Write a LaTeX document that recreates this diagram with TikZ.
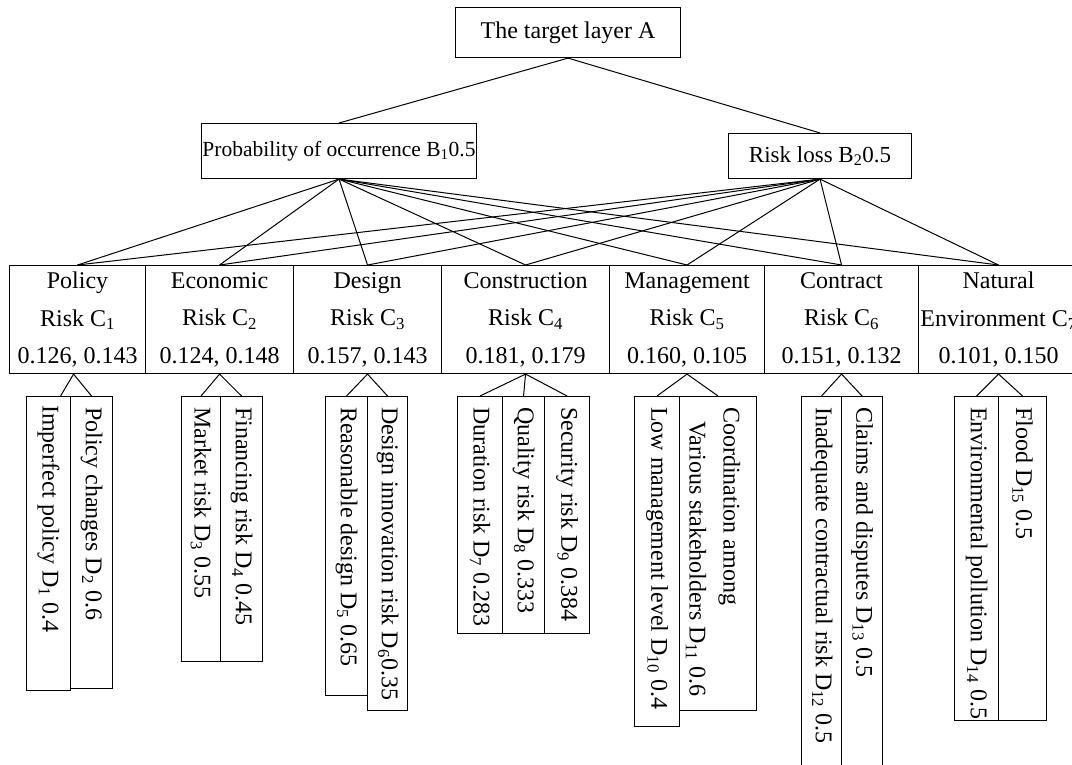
\documentclass[tikz,border=0pt]{standalone}
\usepackage{fontspec}
\setmainfont{Liberation Serif}
\begin{document}
\begin{tikzpicture}[x=1pt,y=-1pt,
  box/.style={draw, line width=1.1pt, inner sep=0pt, anchor=north west, align=center,
    font=\fontsize{24}{37.5}\selectfont},
  bbox/.style={box, font=\fontsize{21.5}{26}\selectfont},
  dbox/.style={draw, line width=1.1pt, inner sep=0pt, anchor=north west},
  dtext/.style={rotate=-90, anchor=west, inner sep=0pt, align=left,
    font=\fontsize{24}{34}\selectfont},
  link/.style={line width=1pt}]
\useasboundingbox (0,0) rectangle (1072,765);
\clip (0,0) rectangle (1072,765);

% level A and B
\node[box, minimum width=225pt, minimum height=50pt] (A) at (455,7) {The target layer A};
\node[bbox, minimum width=275pt, minimum height=55pt] (B1) at (201,123) {Probability of occurrence B\textsubscript{1}0.5};
\node[bbox, minimum width=183pt, minimum height=45pt, font=\fontsize{23}{27}\selectfont] (B2) at (728,133) {Risk loss B\textsubscript{2}0.5};

% level C
\node[box, minimum width=136pt, minimum height=108pt] (c1) at (9,265) {Policy\\Risk C\textsubscript{1}\\0.126, 0.143};
\node[box, minimum width=148pt, minimum height=108pt] (c2) at (145,265) {Economic\\Risk C\textsubscript{2}\\0.124, 0.148};
\node[box, minimum width=148pt, minimum height=108pt] (c3) at (293,265) {Design\\Risk C\textsubscript{3}\\0.157, 0.143};
\node[box, minimum width=168pt, minimum height=108pt] (c4) at (441,265) {Construction\\Risk C\textsubscript{4}\\0.181, 0.179};
\node[box, minimum width=155pt, minimum height=108pt] (c5) at (609,265) {Management\\Risk C\textsubscript{5}\\0.160, 0.105};
\node[box, minimum width=154pt, minimum height=108pt] (c6) at (764,265) {Contract\\Risk C\textsubscript{6}\\0.151, 0.132};
\node[box, minimum width=160pt, minimum height=108pt] (c7) at (918,265) {Natural\\Environment C\textsubscript{7}\\0.101, 0.150};

% level D boxes
\node[dbox, minimum width=44pt, minimum height=294pt] (d1) at (26,396) {};
\node[dbox, minimum width=42pt, minimum height=292pt] (d2) at (70,396) {};
\node[dbox, minimum width=39pt, minimum height=265pt] (d3) at (181,396) {};
\node[dbox, minimum width=42pt, minimum height=265pt] (d4) at (220,396) {};
\node[dbox, minimum width=42pt, minimum height=299pt] (d5) at (325,396) {};
\node[dbox, minimum width=40pt, minimum height=314pt] (d6) at (367,396) {};
\node[dbox, minimum width=45pt, minimum height=237pt] (d7) at (457,396) {};
\node[dbox, minimum width=42pt, minimum height=237pt] (d8) at (502,396) {};
\node[dbox, minimum width=45pt, minimum height=237pt] (d9) at (544,396) {};
\node[dbox, minimum width=45pt, minimum height=330pt] (d10) at (634,396) {};
\node[dbox, minimum width=77pt, minimum height=314pt] (d11) at (679,396) {};
\node[dbox, minimum width=40pt, minimum height=400pt] (d12) at (801,396) {};
\node[dbox, minimum width=41pt, minimum height=400pt] (d13) at (841,396) {};
\node[dbox, minimum width=44pt, minimum height=324pt] (d14) at (954,396) {};
\node[dbox, minimum width=48pt, minimum height=324pt] (d15) at (998,396) {};

% level D texts
\node[dtext] (t1) at ([yshift=-9pt]d1.north) {Imperfect policy D\textsubscript{1} 0.4};
\node[dtext] (t2) at ([yshift=-11pt]d2.north) {Policy changes D\textsubscript{2} 0.6};
\node[dtext] (t3) at ([yshift=-11pt]d3.north) {Market risk D\textsubscript{3} 0.55};
\node[dtext] (t4) at ([yshift=-11pt]d4.north) {Financing risk D\textsubscript{4} 0.45};
\node[dtext] (t5) at ([yshift=-11pt]d5.north) {Reasonable design D\textsubscript{5} 0.65};
\node[dtext] (t6) at ([yshift=-11pt]d6.north) {Design innovation risk D\textsubscript{6}0.35};
\node[dtext] (t7) at ([yshift=-11pt]d7.north) {Duration risk D\textsubscript{7} 0.283};
\node[dtext] (t8) at ([yshift=-11pt]d8.north) {Quality risk D\textsubscript{8} 0.333};
\node[dtext] (t9) at ([yshift=-11pt]d9.north) {Security risk D\textsubscript{9} 0.384};
\node[dtext] (t10) at ([yshift=-11pt]d10.north) {Low management level D\textsubscript{10} 0.4};
\node[dtext] (t11) at ([yshift=-11pt,xshift=-5pt]d11.north) {Coordination among\\\hspace*{14pt}Various stakeholders D\textsubscript{11} 0.6};
\node[dtext] (t12) at ([yshift=-11pt]d12.north) {Inadequate contractual risk D\textsubscript{12} 0.5};
\node[dtext] (t13) at ([yshift=-11pt]d13.north) {Claims and disputes D\textsubscript{13} 0.5};
\node[dtext] (t14) at ([yshift=-11pt]d14.north) {Environmental pollution D\textsubscript{14} 0.5};
\node[dtext] (t15) at ([yshift=-11pt]d15.north) {Flood D\textsubscript{15} 0.5};

% connectors
\draw[link] (A.south) -- (B1.north);
\draw[link] (A.south) -- (B2.north);
\foreach \c in {c1,c2,c3,c4,c5,c6,c7}{
  \draw[link] (B1.south) -- (\c.north);
  \draw[link] (B2.south) -- (\c.north);
}
\draw[link] ([xshift=-4pt]c1.south) -- ([xshift=12pt]d1.north);
\draw[link] ([xshift=-4pt]c1.south) -- (d2.north);
\draw[link] (c2.south) -- (d3.north);
\draw[link] (c2.south) -- (d4.north);
\draw[link] (c3.south) -- (d5.north);
\draw[link] (c3.south) -- (d6.north);
\draw[link] (c4.south) -- (d7.north);
\draw[link] (c4.south) -- (d8.north);
\draw[link] (c4.south) -- (d9.north);
\draw[link] (c5.south) -- (d10.north);
\draw[link] (c5.south) -- (d11.north);
\draw[link] (c6.south) -- (d12.north);
\draw[link] (c6.south) -- (d13.north);
\draw[link] (c7.south) -- (d14.north);
\draw[link] (c7.south) -- (d15.north);
\end{tikzpicture}
\end{document}
